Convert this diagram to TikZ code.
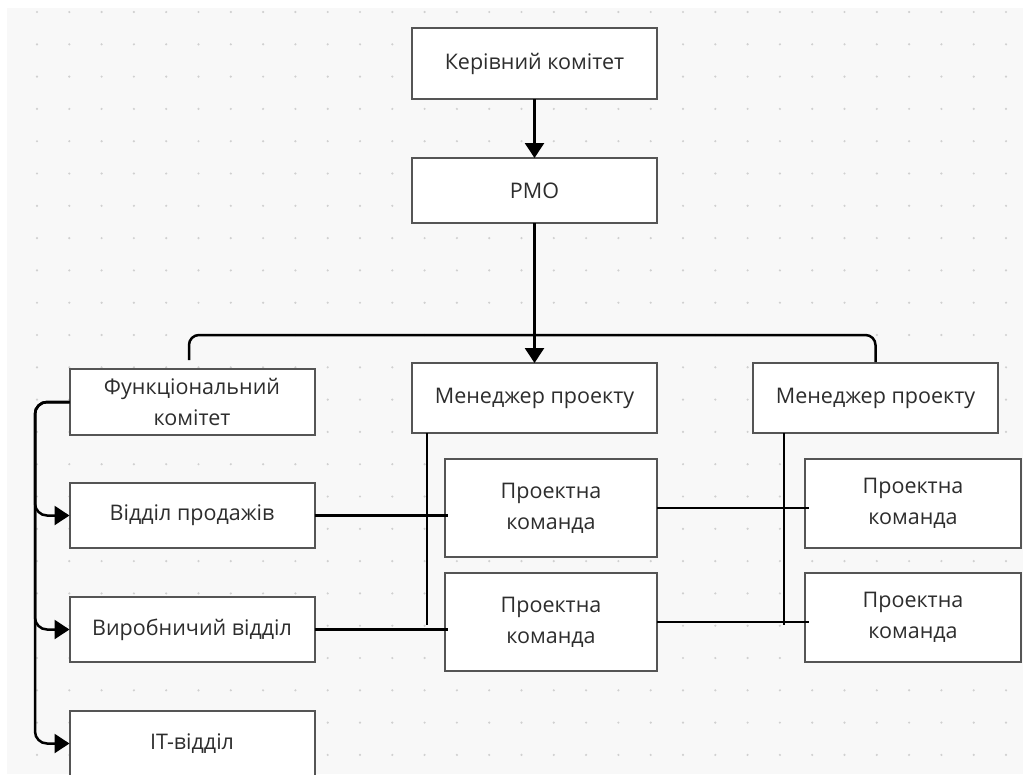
\documentclass[tikz,border=0pt]{standalone}
\usepackage{fontspec}
\setmainfont{Open Sans}
\usetikzlibrary{positioning,arrows.meta}
\definecolor{canvas}{RGB}{248,248,248}
\definecolor{dotgray}{RGB}{208,208,208}
\definecolor{boxline}{RGB}{85,85,85}
\definecolor{boxtext}{RGB}{45,45,45}
\tikzset{
  orgbox/.style={draw=boxline,line width=2pt,fill=white,align=center,outer sep=0pt,inner sep=2pt,
    minimum width=245pt,minimum height=65pt,text=boxtext,font=\fontsize{21.5}{31}\selectfont},
  teambox/.style={orgbox,minimum width=212pt,minimum height=98pt},
  teamboxright/.style={orgbox,minimum width=216pt,minimum height=89pt},
  orgarr/.style={-{Triangle[length=15pt,width=19pt]},line width=2.5pt},
  orglink/.style={line width=2.5pt},
  griddot/.style={fill=dotgray}
}

\begin{document}
\begin{tikzpicture}[x=1pt,y=-1pt]
  % canvas and dot grid
  \useasboundingbox (0,0) rectangle (1023,774);
  \fill[canvas] (7,8) rectangle (1023,774);
  \foreach \i in {0,...,30}
    \foreach \j in {0,...,23}
      \fill[griddot] (37+32.3*\i,12+32.3*\j) circle (1.2pt);

  % top of the structure
  \node[orgbox,minimum height=71pt] (kc) at (534.5,63.5) {Керівний комітет};
  \node[orgbox,below=59pt of kc] (pmo) {PMO};
  \node[orgbox,minimum height=70pt,below=140pt of pmo] (mgr1) {Менеджер проекту};
  \node[orgbox,minimum height=70pt,right=96pt of mgr1] (mgr2) {Менеджер проекту};

  % functional side
  \node[orgbox,minimum height=66pt] (func) at (192,402) {Функціональний\\комітет};
  \node[orgbox,below=48pt of func] (sales) {Відділ продажів};
  \node[orgbox,below=49pt of sales] (prod) {Виробничий відділ};
  \node[orgbox,below=49pt of prod] (it) {IT-відділ};

  % project teams
  \node[teambox,anchor=north east] (team11) at ([yshift=-26pt]mgr1.south east) {Проектна\\команда};
  \node[teambox,below=16pt of team11] (team12) {Проектна\\команда};
  \node[teamboxright,anchor=north west] (team21) at ([xshift=52pt,yshift=-26pt]mgr2.south west) {Проектна\\команда};
  \node[teamboxright,below=25pt of team21] (team22) {Проектна\\команда};

  \draw[orgarr] (kc) -- (pmo);
  \draw[orglink,rounded corners=10pt] ([xshift=-3pt,yshift=9pt]func.north) |- ([yshift=28pt]mgr2.north) -- ([yshift=1pt]mgr2.north);
  \draw[orgarr] (pmo) -- (mgr1);

  \coordinate (spine) at (35,402);
  \foreach \t in {sales,prod,it}
    \draw[orgarr,rounded corners=12pt] (func.west) -| (spine |- \t.west) -- (\t.west);

  \draw[orglink] ([xshift=15pt]mgr1.south west) -- ([xshift=15pt,yshift=5pt]mgr1.south west |- prod.east);
  \draw[orglink] (sales.east) -- ([xshift=3pt]sales.east -| team11.west);
  \draw[orglink] (prod.east) -- ([xshift=3pt]prod.east -| team12.west);

  \draw[orglink] ([xshift=31pt]mgr2.south west) -- ([xshift=31pt,yshift=-3pt]mgr2.south west |- team12.east);
  \draw[orglink] (team11.east) -- ([xshift=4pt]team11.east -| team21.west);
  \draw[orglink] (team12.east) -- ([xshift=4pt]team12.east -| team22.west);
\end{tikzpicture}
\end{document}
